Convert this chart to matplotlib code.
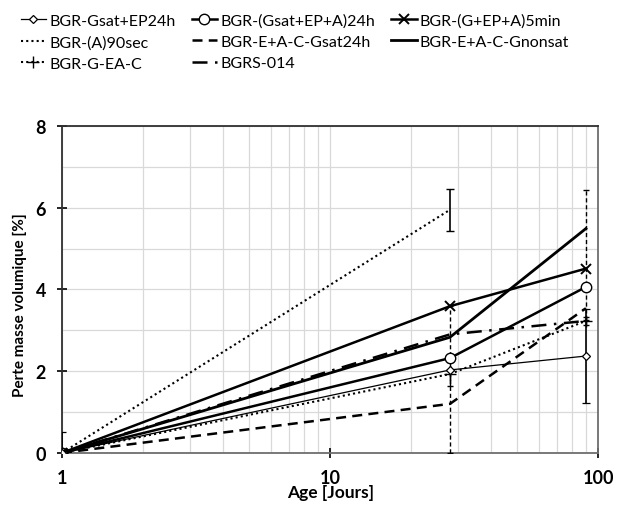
import matplotlib.pyplot as plt
from matplotlib.lines import Line2D
from matplotlib.ticker import FixedLocator, NullFormatter

plt.rcParams['font.family'] = ['Lato', 'DejaVu Sans']

# ages (days) and mass loss (%)
age = [1, 28, 90]
age_short = [1, 28]

gsat_ep24h = [0, 2.03, 2.37]
gsat_ep_a24h = [0, 2.32, 4.06]
g_ep_a5min = [0, 3.59, 4.51]
a90sec = [0, 5.95]
eac_gsat24h = [0, 1.20, 3.54]
eac_gnonsat = [0, 2.83, 5.49]
g_ea_c = [0, 1.93, 3.23]
bgrs014 = [0, 2.90, 3.23]

# error bars
err_gsat_ep24h = [0.5, 0.0, 1.15]
err_a90sec = [0, 0.52]
err_eac_gsat24h = [[0, 1.2, 0.3], [0, 2.4, 2.9]]
err_g_ea_c = [0, 0.3, 0.1]

labels = ["BGR-Gsat+EP24h", "BGR-(Gsat+EP+A)24h", "BGR-(G+EP+A)5min",
          "BGR-(A)90sec", "BGR-E+A-C-Gsat24h", "BGR-E+A-C-Gnonsat",
          "BGR-G-EA-C", "BGRS-014"]

k = 'black'
styles = [
    dict(color=k, lw=0.9, marker='D', ms=4.5, mfc='white', mew=0.9),
    dict(color=k, lw=1.8, marker='o', ms=7.5, mfc='white', mew=1.0),
    dict(color=k, lw=1.8, marker='x', ms=7, mew=1.4),
    dict(color=k, lw=1.5, ls=(0, (1, 1.5))),
    dict(color=k, lw=1.8, ls=(0, (4, 2.5))),
    dict(color=k, lw=2.0),
    dict(color=k, lw=1.5, ls=(0, (1, 1.5)), marker='+', ms=8, mew=1.0),
    dict(color=k, lw=1.8, ls=(0, (6, 3, 1, 3))),
]

fig = plt.figure(figsize=(6.27, 5.06), dpi=100)
ax = fig.add_axes([0.099, 0.103, 0.855, 0.646])

ax.errorbar(age, gsat_ep24h, yerr=err_gsat_ep24h, capsize=3, elinewidth=1.2, zorder=5, **styles[0])
ax.plot(age, gsat_ep_a24h, zorder=5, **styles[1])
ax.plot(age, g_ep_a5min, zorder=5, **styles[2])
ax.errorbar(age_short, a90sec, yerr=err_a90sec, capsize=3, elinewidth=1.2, zorder=4, **styles[3])
e = ax.errorbar(age, eac_gsat24h, yerr=err_eac_gsat24h, capsize=2, elinewidth=1.0, zorder=4,
                **styles[4])
e[2][0].set_linestyle((0, (3, 2)))
ax.plot(age, eac_gnonsat, zorder=4, **styles[5])
ax.errorbar(age, g_ea_c, yerr=err_g_ea_c, capsize=2, elinewidth=1.0, zorder=4, **styles[6])
ax.plot(age, bgrs014, zorder=4, **styles[7])

ax.set_xscale('log')
ax.set_xlim(1, 100)
ax.set_ylim(0, 8)
ax.set_xticks([1, 10, 100])
ax.set_xticklabels(['1', '10', '100'])
ax.xaxis.set_minor_locator(FixedLocator([2, 3, 4, 5, 6, 7, 8, 9, 20, 30, 40, 50, 60, 70, 80, 90]))
ax.xaxis.set_minor_formatter(NullFormatter())
ax.set_yticks([0, 2, 4, 6, 8])
ax.yaxis.set_minor_locator(FixedLocator([1, 3, 5, 7]))
ax.grid(True, which='both', color='#d9d9d9', lw=0.9)
ax.set_axisbelow(True)
ax.tick_params(which='major', direction='inout', length=7, width=1.2, labelsize=13, pad=8)
ax.tick_params(which='minor', length=0)
for t in ax.get_xticklabels() + ax.get_yticklabels():
    t.set_fontweight('bold')
for s in ax.spines.values():
    s.set_color('#6e6e6e')
    s.set_linewidth(1.3)
ax.spines['top'].set_color('#303030')
ax.spines['left'].set_color('#303030')

ax.set_xlabel('Age [Jours]', fontsize=12.5, fontweight='bold', labelpad=-1)
ax.set_ylabel('Perte masse volumique [%]', fontsize=11, fontweight='bold')
ax.yaxis.set_label_coords(-0.065, 0.455)

# legend filled row by row (matplotlib fills columns)
handles = [Line2D([], [], **st) for st in styles]
order = [0, 3, 6, 1, 4, 7, 2, 5]
fig.legend([handles[i] for i in order], [labels[i] for i in order], ncol=3, loc='upper left',
           bbox_to_anchor=(0.01, 1.0), frameon=False, fontsize=11.5, handlelength=1.6,
           handletextpad=0.2, columnspacing=1.0, labelspacing=0.45)

fig.savefig('out.png', dpi=100)
